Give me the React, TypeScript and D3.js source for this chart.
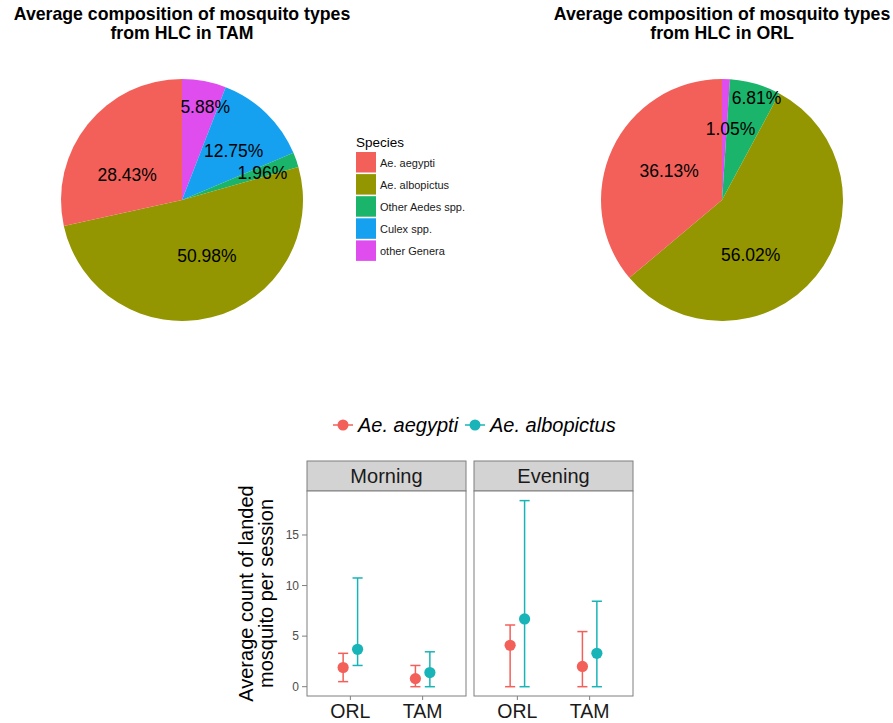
import React from "react";
import * as d3 from "d3";

// ---- Pie data (shares in %, legend order) ----
const species = ["Ae. aegypti", "Ae. albopictus", "Other Aedes spp.", "Culex spp.", "other Genera"];
const tamShares = [28.43, 50.98, 1.96, 12.75, 5.88];
const orlShares = [36.13, 56.02, 6.81, 0, 1.05];
const speciesColors = ["#F3605A", "#939600", "#1AB46B", "#15A0F0", "#DF4DEE"];

// Where each percentage label sits: turn of the circle (0..1 from top, clockwise) and radius fraction
const tamLabelTurn = [0.819, 0.434, 0.199, 0.129, 0.039];
const tamLabelRad = [0.5, 0.51, 0.7, 0.59, 0.79];
const orlLabelTurn = [0.831, 0.423, 0.052, 0, 0.019];
const orlLabelRad = [0.5, 0.51, 0.89, 0, 0.59];

// ---- Landing counts: mean with lower/upper bounds ----
const periods = ["Morning", "Evening"];
const sites = ["ORL", "TAM"];
const mosquitoes = ["Ae. aegypti", "Ae. albopictus"];
const mosquitoColors = ["#F3605A", "#19B4B7"];
// order: [period][site] for each species
const aegyptiMean = [[1.9, 0.8], [4.1, 2.0]];
const aegyptiLow = [[0.5, 0], [0, 0]];
const aegyptiHigh = [[3.3, 2.1], [6.1, 5.45]];
const albopictusMean = [[3.7, 1.4], [6.7, 3.3]];
const albopictusLow = [[2.1, 0], [0, 0]];
const albopictusHigh = [[10.75, 3.45], [18.4, 8.45]];
const yTicks = [0, 5, 10, 15];

const FONT = "'Liberation Sans', Arial, Helvetica, sans-serif";

function Pie({ cx, titleLines, shares, labelTurn, labelRad }: any) {
  const r = 121;
  const cy = 200;
  // ggplot stacks the last level first: draw clockwise from the top in reverse legend order
  const order = d3.range(species.length).reverse();
  const arcs = d3
    .pie<number>()
    .sort(null)
    .value((i) => shares[i])(order);
  const arc = d3.arc<any>().innerRadius(0).outerRadius(r);
  return (
    <g>
      {titleLines.map((t: string, i: number) => (
        <text key={i} x={cx} y={20 + i * 19} textAnchor="middle" fontFamily={FONT} fontWeight="bold" fontSize={17.7} fill="#000">
          {t}
        </text>
      ))}
      <g transform={`translate(${cx},${cy})`}>
        {arcs.map((a) =>
          shares[a.data] > 0 ? <path key={a.data} d={arc(a) as string} fill={speciesColors[a.data]} /> : null
        )}
        {shares.map((v: number, i: number) => {
          if (v <= 0) return null;
          const ang = labelTurn[i] * 2 * Math.PI;
          const rr = labelRad[i] * r;
          return (
            <text key={i} x={Math.sin(ang) * rr} y={-Math.cos(ang) * rr} textAnchor="middle" dominantBaseline="central" fontFamily={FONT} fontSize={17.5} fill="#000">
              {v.toFixed(2)}%
            </text>
          );
        })}
      </g>
    </g>
  );
}

function SpeciesLegend() {
  const x0 = 356;
  const y0 = 152;
  const step = 22.1;
  return (
    <g fontFamily={FONT}>
      <text x={x0} y={147} fontSize={13.5} fill="#000">Species</text>
      {species.map((s, i) => (
        <g key={s}>
          <rect x={x0} y={y0 + i * step} width={20} height={20.5} fill={speciesColors[i]} />
          <text x={x0 + 24} y={y0 + i * step + 10.5} fontSize={11} dominantBaseline="central" fill="#1a1a1a">
            {s}
          </text>
        </g>
      ))}
    </g>
  );
}

function DotPanels() {
  const panelX = [307, 474];
  const panelW = 159;
  const top = 491;
  const bottom = 696;
  const stripH = 30;
  const y = d3.scaleLinear().domain([-0.92, 19.35]).range([bottom, top]);
  const means = [aegyptiMean, albopictusMean];
  const lows = [aegyptiLow, albopictusLow];
  const highs = [aegyptiHigh, albopictusHigh];
  const dodge = [-0.1, 0.1];

  return (
    <g fontFamily={FONT}>
      {/* legend */}
      {mosquitoes.map((m, k) => {
        const kx = [343, 475][k];
        const tx = [358, 490][k];
        return (
          <g key={m}>
            <line x1={kx - 10} x2={kx + 10} y1={425} y2={425} stroke={mosquitoColors[k]} strokeWidth={1.5} />
            <circle cx={kx} cy={425} r={5.5} fill={mosquitoColors[k]} />
            <text x={tx} y={432} fontSize={20} fontStyle="italic" fill="#000">{m}</text>
          </g>
        );
      })}

      {/* y-axis title */}
      <g transform={`translate(256,${(top + bottom) / 2}) rotate(-90)`}>
        <text x={0} y={-10} textAnchor="middle" dominantBaseline="central" fontSize={20} fill="#000">Average count of landed</text>
        <text x={0} y={10} textAnchor="middle" dominantBaseline="central" fontSize={20} fill="#000">mosquito per session</text>
      </g>

      {/* y ticks */}
      {yTicks.map((t) => (
        <g key={t}>
          <line x1={302} x2={307} y1={y(t)} y2={y(t)} stroke="#7f7f7f" strokeWidth={1} />
          <text x={299} y={y(t)} textAnchor="end" dominantBaseline="central" fontSize={12} fill="#4d4d4d">{t}</text>
        </g>
      ))}

      {periods.map((p, pi) => {
        const x = d3.scalePoint().domain(sites).range([panelX[pi], panelX[pi] + panelW]).padding(0.6);
        const stepW = x.step();
        return (
          <g key={p}>
            <rect x={panelX[pi]} y={top - stripH} width={panelW} height={stripH} fill="#D3D3D3" stroke="#7f7f7f" strokeWidth={1} />
            <text x={panelX[pi] + panelW / 2} y={top - stripH / 2} textAnchor="middle" dominantBaseline="central" fontSize={20} fill="#1a1a1a">{p}</text>
            <rect x={panelX[pi]} y={top} width={panelW} height={bottom - top} fill="#fff" stroke="#7f7f7f" strokeWidth={1} />
            {sites.map((s, si) => (
              <g key={s}>
                <line x1={x(s)} x2={x(s)} y1={bottom} y2={bottom + 4} stroke="#7f7f7f" strokeWidth={1} />
                <text x={x(s)} y={718} textAnchor="middle" fontSize={19.5} fill="#1a1a1a">{s}</text>
                {mosquitoes.map((m, k) => {
                  const cx = (x(s) as number) + dodge[k] * stepW;
                  const hw = 0.07 * stepW;
                  const col = mosquitoColors[k];
                  return (
                    <g key={m}>
                      <line x1={cx} x2={cx} y1={y(lows[k][pi][si])} y2={y(highs[k][pi][si])} stroke={col} strokeWidth={1.5} />
                      <line x1={cx - hw} x2={cx + hw} y1={y(lows[k][pi][si])} y2={y(lows[k][pi][si])} stroke={col} strokeWidth={1.5} />
                      <line x1={cx - hw} x2={cx + hw} y1={y(highs[k][pi][si])} y2={y(highs[k][pi][si])} stroke={col} strokeWidth={1.5} />
                      <circle cx={cx} cy={y(means[k][pi][si])} r={5.6} fill={col} />
                    </g>
                  );
                })}
              </g>
            ))}
          </g>
        );
      })}
    </g>
  );
}

export default function App() {
  return (
    <div style={{ position: "absolute", left: 0, top: 0 }}>
      <svg width={893} height={723} style={{ display: "block", background: "#fff" }}>
        <Pie cx={182} titleLines={["Average composition of mosquito types", "from HLC in TAM"]} shares={tamShares} labelTurn={tamLabelTurn} labelRad={tamLabelRad} />
        <Pie cx={722} titleLines={["Average composition of mosquito types", "from HLC in ORL"]} shares={orlShares} labelTurn={orlLabelTurn} labelRad={orlLabelRad} />
        <SpeciesLegend />
        <DotPanels />
      </svg>
    </div>
  );
}
